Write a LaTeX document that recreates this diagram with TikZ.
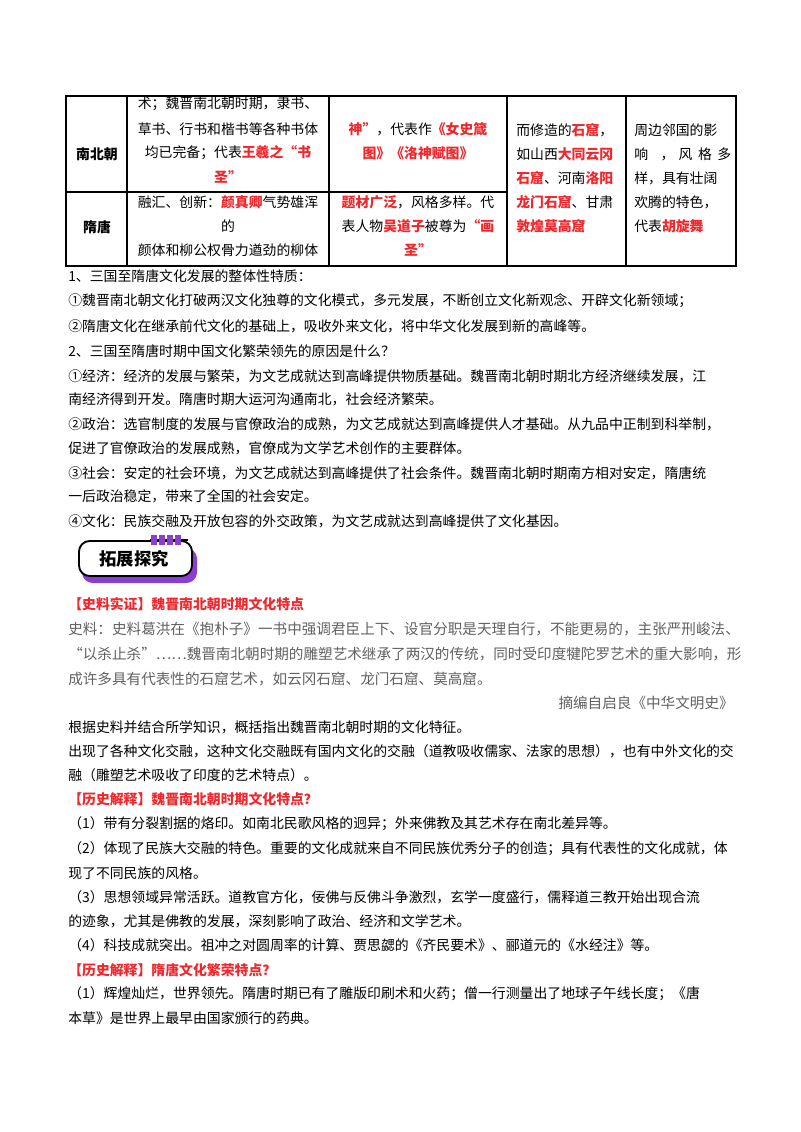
\documentclass[tikz,border=0pt]{standalone}
\usepackage{fontspec}
\setmainfont{Noto Sans CJK SC}
\begin{document}
\begin{tikzpicture}[x=0.75pt,y=-0.75pt,
  t/.style={anchor=west,inner sep=0pt,font=\fontsize{10.4pt}{12pt}\selectfont},
  c/.style={anchor=center,inner sep=0pt,font=\fontsize{10.4pt}{12pt}\selectfont},
  g/.style={t,text=black!62,font=\fontsize{10.95pt}{12pt}\selectfont},
  rl/.style={line width=0.8pt}]
\definecolor{rd}{HTML}{F0282D}
\definecolor{pp}{HTML}{8A3FD0}
\newcommand{\R}[1]{\textcolor{rd}{\textbf{#1}}}
\useasboundingbox (0,0) rectangle (800,1132);
\fill[white] (0,0) rectangle (800,1132);
% table
\draw[rl] (66,96) rectangle (736,266);
\draw[rl] (66,192) -- (507,192);
\foreach \x in {127,329,507,626} \draw[rl] (\x,96) -- (\x,266);
\node[c] (r1) at (97,154) {\textbf{南北朝}};
\node[c] (r2) at (97,227) {\textbf{隋唐}};
\node[c] at (228,104) {术；魏晋南北朝时期，隶书、};
\node[c] at (228,129) {草书、行书和楷书等各种书体};
\node[c] at (228,153) {均已完备；代表\R{王羲之“书}};
\node[c] at (228,177) {\R{圣”}};
\node[c] at (418,129) {\R{神”}，代表作\R{《女史箴}};
\node[c] at (418,153) {\R{图》《洛神赋图》}};
\node[t] at (516,130) {而修造的\R{石窟}，};
\node[t] at (516,154) {如山西\R{大同云冈}};
\node[t] at (516,178) {\R{石窟}、河南\R{洛阳}};
\node[t] at (516,202) {\R{龙门石窟}、甘肃};
\node[t] at (516,226) {\R{敦煌莫高窟}};
\node[t] at (634,130) {周边邻国的影};
\node[t] at (634,154) {响\hspace{0.9em}，\hspace{0.3em}风\hspace{0.4em}格\hspace{0.4em}多};
\node[t] at (634,178) {样，具有壮阔};
\node[t] at (634,202) {欢腾的特色，};
\node[t] at (634,226) {代表\R{胡旋舞}};
\node[c] at (228,202) {融汇、创新：\R{颜真卿}气势雄浑};
\node[c] at (228,226) {的};
\node[c] at (228,250) {颜体和柳公权骨力遒劲的柳体};
\node[c] at (418,202) {\R{题材广泛}，风格多样。代};
\node[c] at (418,226) {表人物\R{吴道子}被尊为\R{“画}};
\node[c] at (418,250) {\R{圣”}};
% body
\node[t] at (68,276) {1、三国至隋唐文化发展的整体性特质：};
\node[t] at (68,301) {①魏晋南北朝文化打破两汉文化独尊的文化模式，多元发展，不断创立文化新观念、开辟文化新领域；};
\node[t] at (68,326) {②隋唐文化在继承前代文化的基础上，吸收外来文化，将中华文化发展到新的高峰等。};
\node[t] at (68,351) {2、三国至隋唐时期中国文化繁荣领先的原因是什么？};
\node[t] at (68,376) {①经济：经济的发展与繁荣，为文艺成就达到高峰提供物质基础。魏晋南北朝时期北方经济继续发展，江};
\node[t] at (68,399) {南经济得到开发。隋唐时期大运河沟通南北，社会经济繁荣。};
\node[t] at (68,424) {②政治：选官制度的发展与官僚政治的成熟，为文艺成就达到高峰提供人才基础。从九品中正制到科举制，};
\node[t] at (68,448) {促进了官僚政治的发展成熟，官僚成为文学艺术创作的主要群体。};
\node[t] at (68,473) {③社会：安定的社会环境，为文艺成就达到高峰提供了社会条件。魏晋南北朝时期南方相对安定，隋唐统};
\node[t] at (68,496) {一后政治稳定，带来了全国的社会安定。};
\node[t] at (68,521) {④文化：民族交融及开放包容的外交政策，为文艺成就达到高峰提供了文化基因。};
% badge
\fill[pp, rounded corners=8pt] (82,548) rectangle (197,583);
\draw[line width=1.4pt, fill=white, rounded corners=8pt] (79,541) rectangle (192,576);
\draw[line width=1.4pt] (150,540) -- (188,540);
\foreach \x in {154,162,170,178}{\draw[line width=1pt, fill=white, pp] (\x-2.5,536) rectangle (\x+2.5,544);}
\node[c, font=\fontsize{13pt}{14pt}\selectfont] (badge) at (134,559) {\textbf{拓展探究}};
\node[t] at (68,604) {\R{【史料实证】魏晋南北朝时期文化特点}};
\node[g] at (68,629) {史料：史料葛洪在《抱朴子》一书中强调君臣上下、设官分职是天理自行，不能更易的，主张严刑峻法、};
\node[g] at (68,654) {“以杀止杀”……魏晋南北朝时期的雕塑艺术继承了两汉的传统，同时受印度犍陀罗艺术的重大影响，形};
\node[g] at (68,679) {成许多具有代表性的石窟艺术，如云冈石窟、龙门石窟、莫高窟。};
\node[g, anchor=east] at (734,703) {摘编自启良《中华文明史》};
\node[t] at (68,727) {根据史料并结合所学知识，概括指出魏晋南北朝时期的文化特征。};
\node[t] at (68,751) {出现了各种文化交融，这种文化交融既有国内文化的交融（道教吸收儒家、法家的思想），也有中外文化的交};
\node[t] at (68,775) {融（雕塑艺术吸收了印度的艺术特点）。};
\node[t] at (68,799) {\R{【历史解释】魏晋南北朝时期文化特点？}};
\node[t] at (68,824) {（1）带有分裂割据的烙印。如南北民歌风格的迥异；外来佛教及其艺术存在南北差异等。};
\node[t] at (68,849) {（2）体现了民族大交融的特色。重要的文化成就来自不同民族优秀分子的创造；具有代表性的文化成就，体};
\node[t] at (68,873) {现了不同民族的风格。};
\node[t] at (68,897) {（3）思想领域异常活跃。道教官方化，佞佛与反佛斗争激烈，玄学一度盛行，儒释道三教开始出现合流};
\node[t] at (68,921) {的迹象，尤其是佛教的发展，深刻影响了政治、经济和文学艺术。};
\node[t] at (68,945) {（4）科技成就突出。祖冲之对圆周率的计算、贾思勰的《齐民要术》、郦道元的《水经注》等。};
\node[t] at (68,970) {\R{【历史解释】隋唐文化繁荣特点？}};
\node[t] at (68,994) {（1）辉煌灿烂，世界领先。隋唐时期已有了雕版印刷术和火药；僧一行测量出了地球子午线长度；《唐};
\node[t] at (68,1018) {本草》是世界上最早由国家颁行的药典。};
\end{tikzpicture}
\end{document}
